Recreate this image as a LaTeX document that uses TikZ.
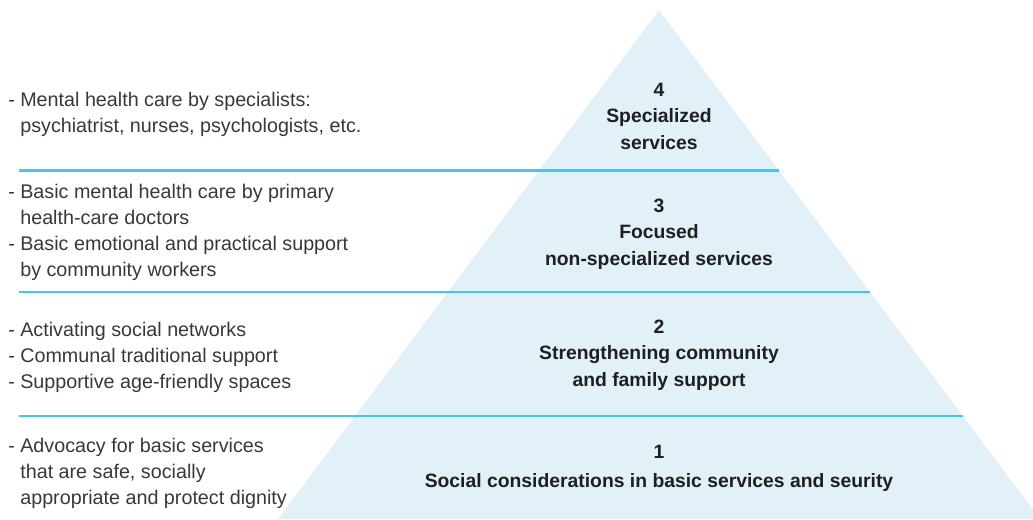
\documentclass[tikz,border=0pt]{standalone}
\usepackage{fontspec}
\setmainfont{Liberation Sans}
\usetikzlibrary{calc}
\begin{document}
\begin{tikzpicture}[x=0.75pt,y=-0.75pt,
  leftlist/.style={anchor=base west,align=left,inner sep=0pt,text=black!78,
    font=\fontsize{14.8pt}{19.5pt}\selectfont},
  tierlabel/.style={anchor=base,align=center,inner sep=0pt,text=black!88,
    font=\fontsize{14.5pt}{19.7pt}\selectfont\bfseries},
  divider/.style={draw=linecol,line width=2pt}]
\definecolor{trifill}{HTML}{E2F1F7}
\definecolor{linecol}{HTML}{40C8F0}
\useasboundingbox (0,0) rectangle (1033,519);
\clip (0,0) rectangle (1033,519);
\coordinate (apex) at (659,10);
\coordinate (bl) at (278,519);
\coordinate (br) at (1040,519);
\fill[trifill] (apex) -- (bl) -- (br) -- cycle;
% dividers
\coordinate (l4) at (19,170.5);
\coordinate (l3) at (19,292);
\coordinate (l2) at (19,416);
\coordinate (r4) at ($(apex)!0.3153!(br)$);
\draw[divider] (l4) -- (l4 -| r4);
\coordinate (r3) at ($(apex)!0.554!(br)$);
\draw[divider] (l3) -- (l3 -| r3);
\coordinate (r2) at ($(apex)!0.7976!(br)$);
\draw[divider] (l2) -- (l2 -| r2);
% left lists (anchored at the baseline of their last line)
\node[leftlist] (t4) at (8,132.5) {- Mental health care by specialists:\\\hphantom{- }psychiatrist, nurses, psychologists, etc.};
\node[leftlist] (t3) at (8,276.7) {- Basic mental health care by primary\\\hphantom{- }health-care doctors\\- Basic emotional and practical support\\\hphantom{- }by community workers};
\node[leftlist] (t2) at (8,388) {- Activating social networks\\- Communal traditional support\\- Supportive age-friendly spaces};
\node[leftlist] (t1) at (8,504.3) {- Advocacy for basic services\\\hphantom{- }that are safe, socially\\\hphantom{- }appropriate and protect dignity};
% tier labels (anchored at the baseline of their last line)
\node[tierlabel] (p4) at (659,149) {4\\Specialized\\services};
\node[tierlabel] (p3) at (659,265) {3\\Focused\\non-specialized services};
\node[tierlabel] (p2) at (659,386) {2\\Strengthening community\\and family support};
\node[tierlabel] (p1) at (659,487) {1\\[2pt]Social considerations in basic services and seurity};
\end{tikzpicture}
\end{document}
